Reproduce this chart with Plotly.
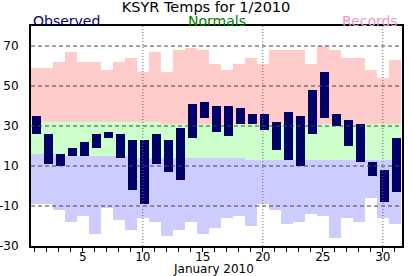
import plotly.graph_objects as go

days = list(range(1, 32))
obs_high = [35, 26, 16, 19, 22, 26, 27, 26, 23, 23, 26, 23, 29, 41, 42, 40,
            40, 39, 36, 36, 32, 37, 35, 48, 57, 36, 33, 31, 12, 8, 24]
obs_low = [26, 11, 10, 15, 15, 19, 24, 14, -2, -9, 11, 7, 3, 24, 34, 27,
           25, 31, 31, 28, 18, 13, 10, 26, 34, 30, 20, 12, 5, -8, -3]
rec_high = [59, 59, 62, 67, 62, 62, 58, 62, 64, 57, 67, 57, 68, 69, 68, 61,
            58, 61, 64, 61, 68, 68, 68, 61, 70, 68, 64, 64, 58, 54, 63]
rec_low = [-9, -9, -12, -18, -15, -24, -11, -17, -22, -16, -18, -25, -22, -18,
           -24, -21, -16, -15, -20, -9, -12, -19, -18, -14, -15, -26, -16,
           -18, -6, -16, -19]
norm_high = [32] * 11 + [31] * 20
norm_low = [16, 16, 16, 15, 15, 15, 15, 15, 15, 14, 14, 14, 14, 14, 14, 14,
            14, 14, 13, 13, 13, 13, 13, 13, 13, 13, 13, 13, 13, 13, 13]

y_ticks = [-30, -10, 10, 30, 50, 70]
y_labels = ["-30", "-10", "10", "30", "50", "70"]
y_grid = [-10, 10, 30, 50, 70]
x_ticks = [5, 10, 15, 20, 25, 30]
x_grid = [10, 20, 30]

FONT = "DejaVu Sans"

fig = go.Figure()

def band(lo, hi, color):
    fig.add_trace(go.Bar(
        x=days, base=lo, y=[h - l for h, l in zip(hi, lo)],
        width=1.0, marker=dict(color=color, line=dict(width=0)),
        hoverinfo="skip", showlegend=False))

band(norm_high, rec_high, "#ffcccc")
band(norm_low, norm_high, "#ccffcc")
band(rec_low, norm_low, "#ccccff")

fig.add_trace(go.Bar(
    x=days, base=obs_low, y=[h - l for h, l in zip(obs_high, obs_low)],
    width=0.75, offset=-0.25,
    marker=dict(color="#000066", line=dict(width=0)),
    showlegend=False))

shapes = []
for v in y_grid:
    shapes.append(dict(type="line", xref="paper", x0=0, x1=1, yref="y", y0=v, y1=v,
                       line=dict(color="#444444", width=1, dash="4px,3px"), layer="above"))
for v in x_grid:
    shapes.append(dict(type="line", xref="x", x0=v, x1=v, yref="paper", y0=0, y1=1,
                       line=dict(color="#666666", width=1, dash="1px,2px"), layer="above"))

fig.update_layout(
    width=412, height=276,
    margin=dict(l=31, r=10, t=26, b=30, autoexpand=False),
    paper_bgcolor="white", plot_bgcolor="white",
    barmode="overlay", bargap=0,
    font=dict(family=FONT, size=12, color="black"),
    title=dict(text="KSYR Temps for 1/2010", x=0.5, xanchor="center",
               y=1 - 6.5 / 276, yanchor="middle", yref="container",
               font=dict(family=FONT, size=14.5, color="black")),
    shapes=shapes,
    annotations=[
        dict(text="Observed", xref="paper", yref="paper", x=0, xanchor="left",
             y=1 + 5 / 220, yanchor="middle", showarrow=False,
             font=dict(family=FONT, size=14, color="#000080")),
        dict(text="Normals", xref="paper", yref="paper", x=0.5, xanchor="center",
             y=1 + 5 / 220, yanchor="middle", showarrow=False,
             font=dict(family=FONT, size=14, color="#008000")),
        dict(text="Records", xref="paper", yref="paper", x=1, xanchor="right",
             xshift=-2, y=1 + 5 / 220, yanchor="middle", showarrow=False,
             font=dict(family=FONT, size=14, color="#ee99cc")),
        dict(text="January 2010", xref="paper", yref="paper", x=0.5, xanchor="center",
             xshift=-3, y=0, yanchor="top", yshift=-14, showarrow=False,
             font=dict(family=FONT, size=12, color="black")),
    ],
    xaxis=dict(range=[0.68, 31.6], tickvals=x_ticks, ticks="outside", ticklen=4,
               tickcolor="black", showgrid=False, zeroline=False, automargin=False,
               showline=True, linecolor="black", linewidth=2, mirror=True,
               minor=dict(tickvals=days, ticks="outside", ticklen=4, tickcolor="black",
                          showgrid=False),
               ticklabelstandoff=-5, tickfont=dict(size=12)),
    yaxis=dict(range=[-30, 80], tickvals=y_ticks, ticktext=y_labels, ticks="",
               showgrid=False, zeroline=False, automargin=False, showline=True,
               linecolor="black", linewidth=2, mirror=True, ticklabelstandoff=8,
               tickfont=dict(size=12)),
)

fig.write_html("out.html")
